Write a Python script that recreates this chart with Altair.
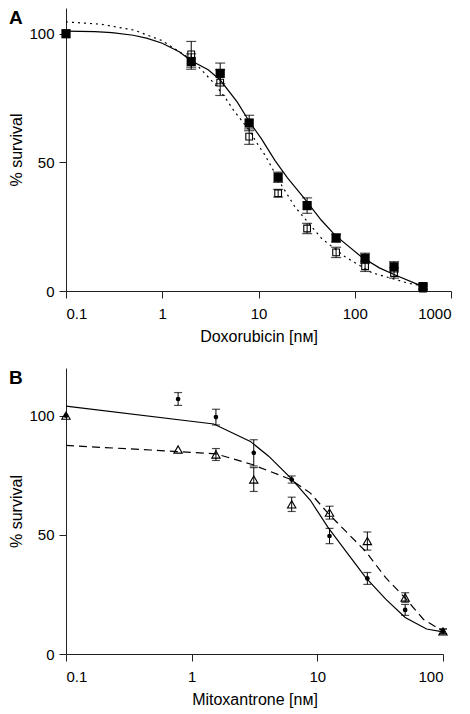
import altair as alt
import pandas as pd

FONT = "Liberation Sans"

# ---------------- Panel A : Doxorubicin ----------------
dox_conc = [0.1, 2, 4, 8, 16, 32, 64, 128, 256, 512]
dox_filled = [100, 89.2, 84.6, 65.3, 44.2, 33.2, 20.6, 12.7, 9.4, 1.7]
dox_filled_err = [0, 3, 4, 3, 2, 3, 1.5, 2, 2, 1]
dox_open = [100, 92, 81, 60, 38, 24.3, 15, 9.6, 7, 0.9]
dox_open_err = [0, 5, 5, 3, 1.5, 2, 2, 2, 2, 1]

dox_fit_x = [0.1, 0.2, 0.3, 0.5, 0.7, 1, 1.5, 2, 3, 4, 6, 8.1, 10.7, 14.8, 20, 29.2, 45, 62.4, 117, 180, 263, 512]
dox_fit_solid = [101, 100.8, 100.4, 99.4, 98.2, 96.3, 93, 89.5, 86, 82, 73.5, 65.6, 59.2, 50.8, 44, 36.5, 27.5, 21.7, 13.3, 9, 6.2, 1.7]
dox_fit_dot_x = [0.1, 0.23, 0.51, 1, 2, 2.55, 3.5, 4.64, 5.45, 6.6, 8, 10, 11.6, 17.4, 23.9, 45.3, 79.4, 151, 363, 512]
dox_fit_dot = [104.6, 103.7, 101.4, 97.3, 90, 86, 80.5, 74.5, 70.5, 66.5, 62.5, 56.5, 53, 41.1, 32.7, 20.4, 13.3, 7.1, 3, 2]

dox_ticks = [0.1, 1, 10, 100, 1000]

# ---------------- Panel B : Mitoxantrone ----------------
mito_conc = [0.1, 0.78, 1.56, 3.12, 6.25, 12.5, 25, 50, 100]
mito_circle = [100, 107, 99.4, 84.4, 73.2, 49.5, 31.7, 18.5, 9.5]
mito_circle_err = [0, 2.7, 3.3, 5.5, 1.5, 3.2, 2.5, 2.3, 1]
mito_tri = [100, 85.8, 83.7, 73.2, 62.8, 59.3, 47.4, 23.7, 9.5]
mito_tri_err = [0, 0, 2.5, 5, 3, 2.7, 3.8, 2, 1]

mito_fit_x = [0.1, 1.5, 2.93, 4.1, 6.1, 8.8, 12.2, 17.2, 24.3, 35, 50, 74, 100]
mito_fit_solid = [104, 96.5, 89.2, 83, 74, 64.5, 53, 42.5, 32, 23, 15.3, 10.5, 9.3]
mito_fit_dash_x = [0.1, 0.47, 1.55, 3.03, 6.1, 8.8, 12.2, 17.2, 24.3, 35, 50, 70, 100]
mito_fit_dash = [87.5, 85.6, 84, 79.5, 73.3, 67.5, 59, 51, 43, 32, 23.5, 14.5, 9.5]

mito_ticks = [0.1, 1, 10, 100]

y_ticks = [0, 50, 100]
panel_labels = ["A", "B"]


def err_df(xs, ys, errs):
    df = pd.DataFrame({"x": xs, "y": ys, "e": errs})
    df = df[df["e"] > 0].copy()
    df["lo"] = df["y"] - df["e"]
    df["hi"] = df["y"] + df["e"]
    return df


def panel(xtitle, xdomain, xticks, ymax, width, height, label,
          fit1_x, fit1_y, fit2_x, fit2_y, dash2,
          px, s1, e1, s2, e2, shape1, size1, shape2, size2, cap):
    xs = alt.Scale(type="log", domain=xdomain, nice=False)
    ys = alt.Scale(domain=[0, ymax], nice=False)
    xax = alt.Axis(values=xticks, format="~g", title=xtitle)
    yax = alt.Axis(values=y_ticks, title="% survival")

    def X(f="x"):
        return alt.X(f, type="quantitative", scale=xs, axis=xax)

    def Y(f="y"):
        return alt.Y(f, type="quantitative", scale=ys, axis=yax)

    f1 = pd.DataFrame({"x": fit1_x, "y": fit1_y})
    f2 = pd.DataFrame({"x": fit2_x, "y": fit2_y})
    d1 = pd.DataFrame({"x": px, "y": s1})
    d2 = pd.DataFrame({"x": px, "y": s2})
    eb1 = err_df(px, s1, e1)
    eb2 = err_df(px, s2, e2)

    layers = [
        alt.Chart(f2).mark_line(color="black", strokeWidth=1.2, strokeDash=dash2)
        .encode(x=X(), y=Y(), order="x:Q"),
        alt.Chart(f1).mark_line(color="black", strokeWidth=1.2)
        .encode(x=X(), y=Y(), order="x:Q"),
    ]
    for eb in (eb2, eb1):
        layers.append(alt.Chart(eb).mark_rule(color="black", strokeWidth=1)
                      .encode(x=X(), y=Y("lo"), y2="hi"))
        for f in ("lo", "hi"):
            layers.append(alt.Chart(eb).mark_tick(color="black", orient="horizontal",
                                                  size=cap, thickness=1.2)
                          .encode(x=X(), y=Y(f)))
    layers.append(alt.Chart(d2).mark_point(shape=shape2, size=size2, filled=False,
                                           color="black", strokeWidth=1.1, opacity=1)
                  .encode(x=X(), y=Y()))
    layers.append(alt.Chart(d1).mark_point(shape=shape1, size=size1, filled=True,
                                           color="black", opacity=1)
                  .encode(x=X(), y=Y()))
    lab = pd.DataFrame({"t": [label]})
    layers.append(alt.Chart(lab).mark_text(font=FONT, fontSize=19, fontWeight="bold",
                                           align="left", baseline="alphabetic", color="black")
                  .encode(x=alt.value(-57), y=alt.value(16), text="t:N"))
    return alt.layer(*layers).properties(width=width, height=height)


pa = panel("Doxorubicin [nᴍ]", [0.1, 1000], dox_ticks, 110, 385, 283, panel_labels[0],
           dox_fit_x, dox_fit_solid, dox_fit_dot_x, dox_fit_dot, [2, 4],
           dox_conc, dox_filled, dox_filled_err, dox_open, dox_open_err,
           "square", 85, "square", 45, 10)

pb = panel("Mitoxantrone [nᴍ]", [0.1, 100], mito_ticks, 120, 377, 286, panel_labels[1],
           mito_fit_x, mito_fit_solid, mito_fit_dash_x, mito_fit_dash, [8, 5],
           mito_conc, mito_circle, mito_circle_err, mito_tri, mito_tri_err,
           "circle", 22, "triangle-up", 70, 8)

chart = alt.vconcat(pa, pb, spacing=24).properties(
    padding={"left": 0, "top": 0, "right": 5, "bottom": 5},
    background="white",
).configure_view(stroke=None).configure_axis(
    grid=False,
    domainColor="#222",
    tickColor="#222",
    domainWidth=1,
    tickWidth=1,
    tickSize=7,
    labelFont=FONT,
    titleFont=FONT,
    labelFontSize=15,
    titleFontSize=16,
    labelColor="black",
    titleColor="black",
    titleFontWeight="normal",
    labelPadding=8,
    titlePadding=7,
).configure_axisY(titlePadding=4, labelPadding=5)

chart.save("out.html", embed_options={"renderer": "svg", "actions": False})
